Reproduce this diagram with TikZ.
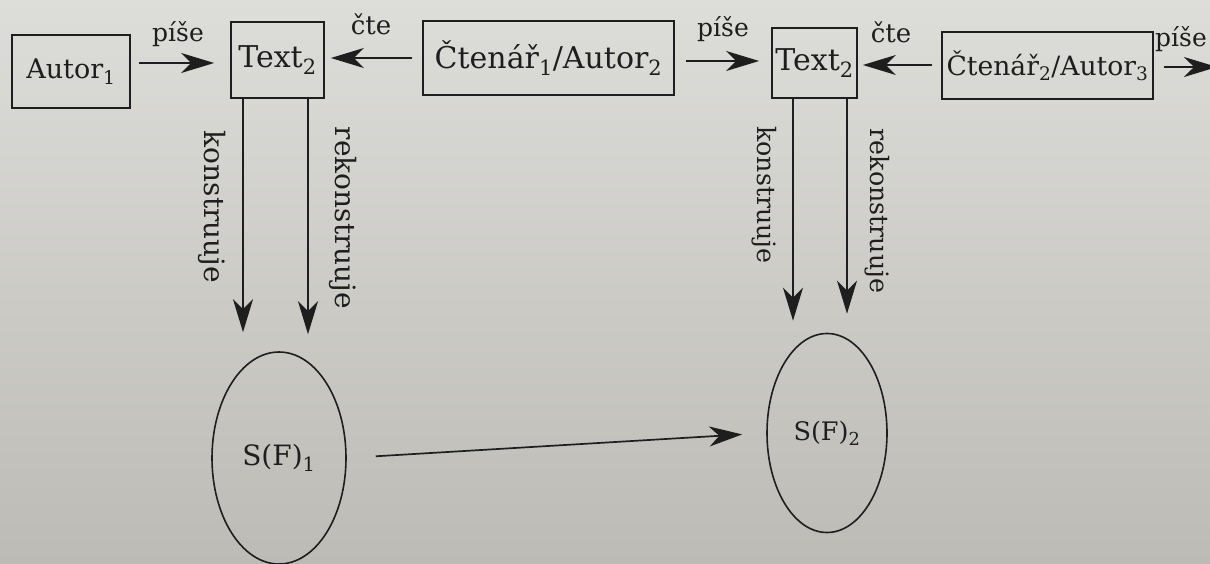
\documentclass[tikz,border=0pt]{standalone}
\usepackage{fontspec}
\setmainfont{DejaVu Serif}
\usetikzlibrary{arrows.meta,shapes.geometric}
\definecolor{paperA}{HTML}{DDDDD9}
\definecolor{paperB}{HTML}{BCBBB6}
\definecolor{ink}{HTML}{1E1E1E}
\begin{document}
\begin{tikzpicture}[x=1pt,y=-1pt,
  every node/.style={text=ink, inner sep=0pt},
  box/.style={draw=ink, line width=1.7pt, rectangle, align=center},
  oval/.style={draw=ink, line width=1.6pt, ellipse},
  arr/.style={draw=ink, line width=1.7pt, -{Stealth[length=33pt,width=20pt,inset=10pt]}},
  lab/.style={font=\fontsize{25}{30}\selectfont, anchor=base},
  bigtxt/.style={font=\fontsize{30}{36}\selectfont},
  vlabL/.style={rotate=-90, font=\fontsize{28}{34}\selectfont},
  vlabR/.style={rotate=-90, font=\fontsize{25.3}{30}\selectfont}]
\useasboundingbox (0,0) rectangle (1210,564);
\shade[top color=paperA, bottom color=paperB] (0,0) rectangle (1210,564);
\clip (0,0) rectangle (1210,564);

% boxes
\node[box,font=\fontsize{27}{32}\selectfont,minimum width=118pt,minimum height=73pt] (A1) at (71,71.5) {Autor\textsubscript{1}};
\node[box,bigtxt,minimum width=93pt,minimum height=76pt] (T1) at (277.5,60) {Text\textsubscript{2}};
\node[box,bigtxt,minimum width=251pt,minimum height=74pt] (C1) at (548.5,58) {Čtenář\textsubscript{1}/Autor\textsubscript{2}};
\node[box,bigtxt,minimum width=85pt,minimum height=70pt] (T2) at (814.5,63) {Text\textsubscript{2}};
\node[box,font=\fontsize{26.6}{32}\selectfont,minimum width=211pt,minimum height=67pt] (C2) at (1047.5,65.5) {Čtenář\textsubscript{2}/Autor\textsubscript{3}};
\coordinate (out) at (1217,67);

% ellipses
\node[oval,font=\fontsize{28}{34}\selectfont,minimum width=134pt,minimum height=212pt] (E1) at (279,458) {S(F)\textsubscript{1}};
\node[oval,font=\fontsize{25.5}{30}\selectfont,minimum width=120pt,minimum height=199pt] (E2) at (827,433) {S(F)\textsubscript{2}};

% horizontal arrows
\draw[arr, shorten <=8pt, shorten >=16pt] ([yshift=8.5pt]A1.east) -- ([yshift=-3pt]T1.west);
\draw[arr, shorten <=10pt, shorten >=6pt] (C1.west) -- ([yshift=2pt]T1.east);
\draw[arr, shorten <=11pt, shorten >=12pt] ([yshift=-3pt]C1.east) -- ([yshift=2pt]T2.west);
\draw[arr, shorten <=9pt, shorten >=5pt] ([yshift=0.5pt]C2.west) -- ([yshift=-2pt]T2.east);
\draw[arr, shorten <=10pt] ([yshift=-1.5pt]C2.east) -- (out);

% labels
\node[lab] (p1) at (178,42) {píše};
\node[lab,font=\fontsize{26}{31}\selectfont] (c1) at (371,35) {čte};
\node[lab] (p2) at (723,37) {píše};
\node[lab,font=\fontsize{26}{31}\selectfont] (c2) at (891,43) {čte};
\node[lab] (p3) at (1181,47) {píše};

% vertical arrows
\draw[arr, shorten >=19pt] ([xshift=-34.5pt]T1.south) -- ([xshift=-36pt]E1.north);
\draw[arr, shorten >=17pt] ([xshift=30.5pt]T1.south) -- ([xshift=29pt]E1.north);
\draw[arr, shorten >=12pt] ([xshift=-21.5pt]T2.south) -- ([xshift=-34pt]E2.north);
\draw[arr, shorten >=19pt] ([xshift=32.5pt]T2.south) -- ([xshift=20pt]E2.north);

% vertical labels
\node[vlabL] (k1) at (212,207) {konstruuje};
\node[vlabL] (r1) at (343,218) {rekonstruuje};
\node[vlabR] (k2) at (764,195) {konstruuje};
\node[vlabR] (r2) at (877,211) {rekonstruuje};

% bottom arrow
\draw[arr, shorten <=29pt, shorten >=24pt] (E1.east) -- (E2.west);
\end{tikzpicture}
\end{document}
